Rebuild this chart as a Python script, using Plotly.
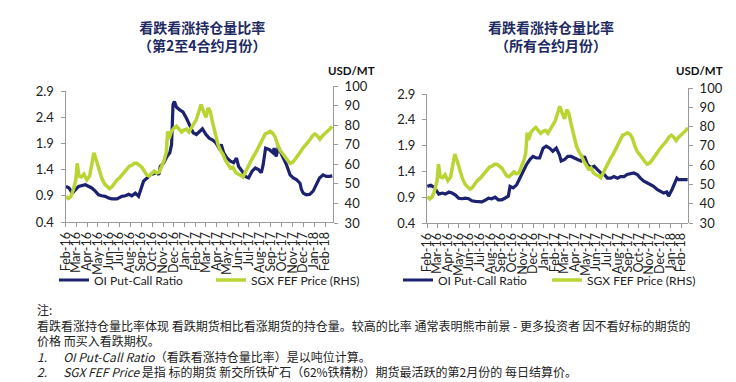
import pandas as pd
import plotly.graph_objects as go

W, H = 736, 382

# ---------------- data ----------------
tick_labels = ["Feb-16", "Mar-16", "Apr-16", "May-16", "Jun-16", "Jul-16", "Aug-16", "Sep-16",
               "Oct-16", "Nov-16", "Dec-16", "Jan-17", "Feb-17", "Mar-17", "Apr-17", "May-17",
               "Jun-17", "Jul-17", "Aug-17", "Sep-17", "Oct-17", "Nov-17", "Dec-17", "Jan-18", "Feb-18"]

fef_dates = ["2016-02-01", "2016-02-08", "2016-02-15", "2016-02-22", "2016-02-29", "2016-03-04",
             "2016-03-09", "2016-03-16", "2016-03-23", "2016-03-31", "2016-04-08", "2016-04-14",
             "2016-04-20", "2016-04-27", "2016-05-05", "2016-05-12", "2016-05-20", "2016-05-27",
             "2016-06-03", "2016-06-10", "2016-06-17", "2016-06-24", "2016-07-01", "2016-07-08",
             "2016-07-15", "2016-07-22", "2016-07-29", "2016-08-05", "2016-08-12", "2016-08-19",
             "2016-08-26", "2016-09-02", "2016-09-09", "2016-09-16", "2016-09-23", "2016-09-30",
             "2016-10-07", "2016-10-14", "2016-10-21", "2016-10-28", "2016-11-04", "2016-11-10",
             "2016-11-14", "2016-11-18", "2016-11-25", "2016-12-02", "2016-12-09", "2016-12-16",
             "2016-12-23", "2016-12-30", "2017-01-06", "2017-01-13", "2017-01-20", "2017-01-27",
             "2017-02-03", "2017-02-10", "2017-02-16", "2017-02-23", "2017-03-02", "2017-03-08",
             "2017-03-14", "2017-03-21", "2017-03-28", "2017-04-05", "2017-04-12", "2017-04-19",
             "2017-04-26", "2017-05-03", "2017-05-10", "2017-05-17", "2017-05-24", "2017-05-31",
             "2017-06-07", "2017-06-14", "2017-06-21", "2017-06-28", "2017-07-05", "2017-07-12",
             "2017-07-19", "2017-07-26", "2017-08-02", "2017-08-09", "2017-08-16", "2017-08-23",
             "2017-08-30", "2017-09-06", "2017-09-13", "2017-09-20", "2017-09-27", "2017-10-04",
             "2017-10-11", "2017-10-18", "2017-10-25", "2017-11-01", "2017-11-08", "2017-11-15",
             "2017-11-22", "2017-11-29", "2017-12-06", "2017-12-13", "2017-12-20", "2017-12-27",
             "2018-01-03", "2018-01-10", "2018-01-17", "2018-01-24", "2018-01-31", "2018-02-07",
             "2018-02-14", "2018-02-20"]
fef_price = [43.6, 42.5, 43.5, 47.0, 52.0, 60.5,
             54.0, 53.5, 55.0, 52.0, 54.0, 60.0,
             65.8, 62.0, 57.0, 53.0, 50.0, 48.5,
             47.5, 48.5, 50.5, 52.0, 53.0, 54.5,
             56.0, 57.5, 59.0, 59.5, 60.5, 60.5,
             59.5, 58.5, 56.5, 54.5, 54.0, 55.0,
             56.5, 55.5, 56.0, 59.0, 62.0, 66.0,
             76.8, 73.0, 77.0, 78.5, 79.5, 78.0,
             76.5, 77.5, 78.0, 76.5, 78.5, 80.5,
             83.0, 87.0, 90.5, 87.0, 84.0, 88.8,
             87.0, 81.0, 76.0, 70.0, 67.0, 65.0,
             62.0, 60.0, 58.0, 58.5, 56.0, 55.0,
             54.5, 53.5, 56.0, 59.0, 61.5, 63.5,
             65.5, 68.0, 70.5, 73.5, 75.5, 76.0,
             76.8, 76.0, 74.0, 70.0, 67.0, 65.5,
             63.5, 62.0, 60.5, 61.0, 62.5, 64.0,
             66.0, 68.0, 69.5, 70.5, 72.5, 74.5,
             75.5, 74.5, 72.8, 74.5, 75.5, 76.5,
             78.0, 79.4]

# OI put-call ratio, 2nd-4th contract months (left chart)
pcr24_dates = ["2016-02-01", "2016-02-10", "2016-02-19", "2016-02-28", "2016-03-08", "2016-03-27",
               "2016-04-05", "2016-04-14", "2016-04-24", "2016-05-03", "2016-05-12", "2016-05-22",
               "2016-05-31", "2016-06-10", "2016-06-24", "2016-07-08", "2016-07-18", "2016-07-27",
               "2016-08-05", "2016-08-15", "2016-08-24", "2016-08-31", "2016-09-07", "2016-09-17",
               "2016-09-26", "2016-10-15", "2016-10-20", "2016-10-24", "2016-11-03", "2016-11-12",
               "2016-11-20", "2016-11-25", "2016-11-29", "2016-12-03", "2016-12-09", "2016-12-18",
               "2016-12-27", "2017-01-06", "2017-01-16", "2017-01-25", "2017-02-03", "2017-02-13",
               "2017-02-20", "2017-03-02", "2017-03-11", "2017-03-20", "2017-03-30", "2017-04-08",
               "2017-04-14", "2017-04-21", "2017-04-30", "2017-05-10", "2017-05-19", "2017-05-27",
               "2017-06-02", "2017-06-12", "2017-06-21", "2017-06-30", "2017-07-10", "2017-07-19",
               "2017-07-28", "2017-08-05", "2017-08-10", "2017-08-17", "2017-08-28", "2017-09-07",
               "2017-09-10", "2017-09-16", "2017-09-22", "2017-09-27", "2017-10-06", "2017-10-15",
               "2017-10-25", "2017-11-03", "2017-11-12", "2017-11-22", "2017-11-26", "2017-12-01",
               "2017-12-10", "2017-12-20", "2017-12-29", "2018-01-07", "2018-01-16", "2018-01-26",
               "2018-02-04", "2018-02-13", "2018-02-21"]
pcr24 = [1.08, 1.05, 0.95, 1.02, 1.08, 1.11,
         1.08, 1.05, 0.99, 0.92, 0.90, 0.89,
         0.86, 0.84, 0.84, 0.89, 0.90, 0.93,
         0.90, 0.95, 0.89, 1.05, 1.18, 1.24,
         1.30, 1.34, 1.30, 1.46, 1.53, 1.65,
         1.72, 1.88, 2.64, 2.70, 2.59, 2.54,
         2.50, 2.38, 2.23, 2.10, 2.07, 2.13,
         2.18, 2.07, 2.00, 1.97, 1.91, 1.81,
         1.88, 1.72, 1.62, 1.56, 1.53, 1.62,
         1.46, 1.37, 1.27, 1.24, 1.37, 1.43,
         1.40, 1.34, 1.49, 1.81, 1.78, 1.72,
         1.81, 1.65, 1.84, 1.75, 1.62, 1.49,
         1.30, 1.24, 1.21, 1.14, 1.02, 0.95,
         0.92, 0.93, 0.99, 1.11, 1.24, 1.30,
         1.27, 1.27, 1.28]

# OI put-call ratio, all contract months (right chart)
pcr_all_dates = ["2016-02-01", "2016-02-11", "2016-02-21", "2016-03-01", "2016-03-05", "2016-03-15",
                 "2016-03-24", "2016-04-03", "2016-04-12", "2016-04-22", "2016-05-01", "2016-05-11",
                 "2016-05-20", "2016-05-30", "2016-06-08", "2016-06-18", "2016-06-27", "2016-07-07",
                 "2016-07-16", "2016-07-26", "2016-08-04", "2016-08-14", "2016-08-23", "2016-09-02",
                 "2016-09-11", "2016-09-21", "2016-09-26", "2016-10-05", "2016-10-15", "2016-10-24",
                 "2016-11-03", "2016-11-12", "2016-11-22", "2016-12-01", "2016-12-11", "2016-12-20",
                 "2016-12-30", "2017-01-08", "2017-01-18", "2017-01-27", "2017-02-06", "2017-02-15",
                 "2017-02-20", "2017-03-02", "2017-03-11", "2017-03-21", "2017-03-30", "2017-04-09",
                 "2017-04-18", "2017-04-28", "2017-05-07", "2017-05-17", "2017-05-26", "2017-06-05",
                 "2017-06-14", "2017-06-24", "2017-07-03", "2017-07-13", "2017-07-22", "2017-08-01",
                 "2017-08-10", "2017-08-20", "2017-08-29", "2017-09-17", "2017-09-27", "2017-10-06",
                 "2017-10-16", "2017-10-25", "2017-11-04", "2017-11-13", "2017-11-23", "2017-12-02",
                 "2017-12-12", "2017-12-21", "2017-12-26", "2018-01-05", "2018-01-14", "2018-01-19",
                 "2018-01-24", "2018-02-03", "2018-02-08", "2018-02-19"]
pcr_all = [1.11, 1.13, 1.09, 1.01, 0.96, 0.98,
           0.96, 1.00, 0.98, 0.94, 0.88, 0.87,
           0.88, 0.87, 0.83, 0.82, 0.82, 0.81,
           0.84, 0.88, 0.87, 0.90, 0.85, 0.85,
           0.88, 0.92, 1.11, 1.08, 1.14, 1.27,
           1.40, 1.53, 1.63, 1.69, 1.66, 1.66,
           1.85, 1.89, 1.85, 1.79, 1.85, 1.72,
           1.60, 1.63, 1.69, 1.69, 1.66, 1.63,
           1.60, 1.69, 1.53, 1.47, 1.50, 1.43,
           1.37, 1.34, 1.27, 1.27, 1.30, 1.27,
           1.30, 1.30, 1.34, 1.37, 1.34, 1.27,
           1.21, 1.18, 1.14, 1.11, 1.05, 1.01,
           0.98, 1.00, 0.92, 1.05, 1.18, 1.27,
           1.24, 1.24, 1.24, 1.24]

left_ticks = [0.4, 0.9, 1.4, 1.9, 2.4, 2.9]
right_ticks = [30, 40, 50, 60, 70, 80, 90, 100]

titles = [("看跌看涨持仓量比率", "（第2至4合约月份）"), ("看跌看涨持仓量比率", "（所有合约月份）")]
series_names = ["OI Put-Call Ratio", "SGX FEF Price (RHS)"]
notes = [
    "注:",
    "看跌看涨持仓量比率体现 看跌期货相比看涨期货的持仓量。较高的比率 通常表明熊市前景 - 更多投资者 因不看好标的期货的",
    "价格 而买入看跌期权。",
    "<i>1.</i>\u00a0\u00a0\u00a0\u00a0\u00a0\u00a0<i>OI Put-Call Ratio</i>（看跌看涨持仓量比率）是以吨位计算。",
    "<i>2.</i>\u00a0\u00a0\u00a0\u00a0\u00a0\u00a0<i>SGX FEF Price</i> 是指 标的期货 新交所铁矿石（62%铁精粉）期货最活跃的第2月份的 每日结算价。",
]

# ---------------- style ----------------
NAVY = "#1c2270"
GREEN = "#b9d534"
AXIS = "#9a9a9a"
FONT = "Lato"
CJK = "Noto Sans CJK SC"


def px(x):
    return x / W


def py(y):
    return 1 - y / H


tickvals = pd.date_range("2016-02-01", periods=len(tick_labels), freq="MS")

fig = go.Figure()

fig.add_trace(go.Scatter(x=pcr24_dates, y=pcr24, name=series_names[0], mode="lines",
                         line=dict(color=NAVY, width=3.2), xaxis="x", yaxis="y", legend="legend"))
fig.add_trace(go.Scatter(x=fef_dates, y=fef_price, name=series_names[1], mode="lines",
                         line=dict(color=GREEN, width=3.5), xaxis="x", yaxis="y2", legend="legend"))
fig.add_trace(go.Scatter(x=pcr_all_dates, y=pcr_all, name=series_names[0], mode="lines",
                         line=dict(color=NAVY, width=3.2), xaxis="x2", yaxis="y3", legend="legend2"))
fig.add_trace(go.Scatter(x=fef_dates, y=fef_price, name=series_names[1], mode="lines",
                         line=dict(color=GREEN, width=3.5), xaxis="x2", yaxis="y4", legend="legend2"))

xcommon = dict(type="date", tickmode="array", tickvals=tickvals, ticktext=tick_labels,
               tickangle=-90, showline=True, linecolor=AXIS, linewidth=1, ticks="outside",
               ticklen=4, tickcolor=AXIS, showgrid=False, zeroline=False, automargin=False,
               tickfont=dict(family=FONT, size=12.5, color="#222"))
ycommon = dict(showline=True, linecolor=AXIS, linewidth=1, ticks="outside", ticklen=4,
               tickcolor=AXIS, showgrid=False, zeroline=False, automargin=False,
               tickfont=dict(family=FONT, size=13, color="#222"))

fig.update_layout(
    width=W, height=H, margin=dict(l=0, r=0, t=0, b=0, autoexpand=False),
    paper_bgcolor="white", plot_bgcolor="rgba(0,0,0,0)",
    xaxis=dict(xcommon, domain=[px(57.5), px(325)], anchor="y",
               range=["2016-01-31", "2018-02-23"]),
    yaxis=dict(ycommon, domain=[py(214), py(83)], anchor="x", range=[0.4, 2.9],
               tickmode="array", tickvals=left_ticks, ticktext=[f"{v:.1f}" for v in left_ticks],
               ticklabelstandoff=4),
    yaxis2=dict(ycommon, domain=[py(215), py(78)], anchor="x", side="right", range=[30, 100],
                tickmode="array", tickvals=right_ticks, ticktext=[str(v) for v in right_ticks],
                ticklabelstandoff=4),
    xaxis2=dict(xcommon, domain=[px(419), px(680)], anchor="y3",
                range=["2016-01-31", "2018-02-20"]),
    yaxis3=dict(ycommon, domain=[py(215), py(86)], anchor="x2", range=[0.4, 2.9],
                tickmode="array", tickvals=left_ticks, ticktext=[f"{v:.1f}" for v in left_ticks],
                ticklabelstandoff=4),
    yaxis4=dict(ycommon, domain=[py(215), py(80)], anchor="x2", side="right", range=[30, 100],
                tickmode="array", tickvals=right_ticks, ticktext=[str(v) for v in right_ticks],
                ticklabelstandoff=4),
    legend=dict(orientation="h", x=px(46), y=py(272), xanchor="left", yanchor="middle",
                font=dict(family=FONT, size=12, color="#222"), bgcolor="rgba(0,0,0,0)",
                entrywidth=112, entrywidthmode="pixels", traceorder="normal"),
    legend2=dict(orientation="h", x=px(390), y=py(272), xanchor="left", yanchor="middle",
                 font=dict(family=FONT, size=12, color="#222"), bgcolor="rgba(0,0,0,0)",
                 entrywidth=104, entrywidthmode="pixels", traceorder="normal"),
    showlegend=True,
)

annotations = []
for (l1, l2), cx in zip(titles, [194, 543]):
    annotations.append(dict(text=f"<b>{l1}</b><br><b>{l2}</b>", x=px(cx), y=py(28), xref="paper",
                            yref="paper", xanchor="center", yanchor="middle", showarrow=False,
                            font=dict(family=CJK, size=14, color="#1e2a62")))
for cx, yy in [(343, 63), (691, 63)]:
    annotations.append(dict(text="<b>USD/MT</b>", x=px(cx), y=py(yy), xref="paper", yref="paper",
                            xanchor="center", yanchor="middle", showarrow=False,
                            font=dict(family=FONT, size=11.5, color="#111")))
annotations.append(dict(text="<br>".join(notes), x=px(27), y=py(332), xref="paper", yref="paper",
                        xanchor="left", yanchor="middle", align="left", showarrow=False,
                        font=dict(family=CJK, size=12, color="#222")))
fig.update_layout(annotations=annotations)

fig.write_html("out.html")
